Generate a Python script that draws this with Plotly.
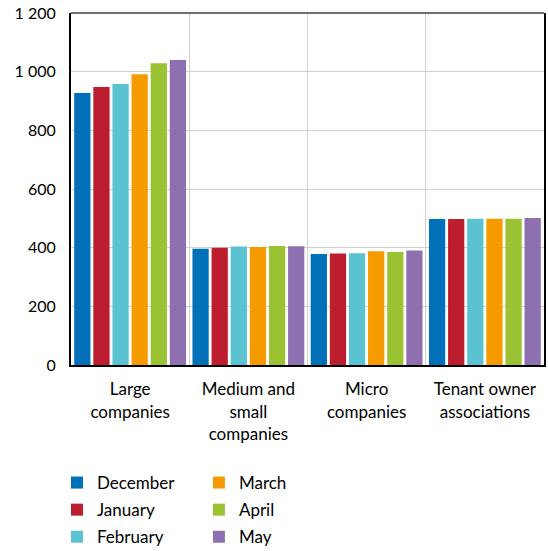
import plotly.graph_objects as go

categories = ["Large<br>companies", "Medium and<br>small<br>companies",
              "Micro<br>companies", "Tenant owner<br>associations"]
months = ["December", "January", "February", "March", "April", "May"]
colors = ["#0070b8", "#bc1e2f", "#5bc2d1", "#f59b00", "#9bc232", "#8e70b0"]

december = [927, 396, 378, 498]
january = [948, 400, 380, 498]
february = [958, 404, 381, 499]
march = [991, 402, 388, 499]
april = [1029, 406, 385, 499]
may = [1040, 405, 390, 501]
series = [december, january, february, march, april, may]

y_ticks = [0, 200, 400, 600, 800, 1000, 1200]

FONT = "Lato"

fig = go.Figure()
for i, (name, vals, col) in enumerate(zip(months, series, colors)):
    fig.add_trace(go.Bar(
        x=categories, y=vals, name=name,
        marker=dict(color=col, line=dict(width=0)),
        legend="legend" if i < 3 else "legend2",
        legendgroup=name,
    ))

legend_common = dict(
    orientation="v", traceorder="grouped", tracegroupgap=2,
    font=dict(family=FONT, size=17, color="#000000"),
    bgcolor="rgba(0,0,0,0)", borderwidth=0,
    xref="container", yref="container", xanchor="left", yanchor="top",
    itemclick=False,
)

fig.update_layout(
    width=548, height=551,
    margin=dict(l=71, r=4, t=13, b=186, autoexpand=False),
    paper_bgcolor="white", plot_bgcolor="white",
    separators=", ",
    barmode="group", bargap=0.03, bargroupgap=0.15,
    font=dict(family=FONT, size=16, color="#000000"),
    legend=dict(x=0.104, y=1 - 465 / 551, **legend_common),
    legend2=dict(x=0.363, y=1 - 465 / 551, **legend_common),
    xaxis=dict(
        showline=True, linecolor="#000000", linewidth=2,
        tickson="boundaries", showgrid=True, gridcolor="#d0d0d0", gridwidth=1,
        ticks="", tickangle=0, tickfont=dict(family=FONT, size=17),
        ticklabelstandoff=8,
    ),
    yaxis=dict(
        range=[0, 1200], tickvals=y_ticks, tickformat=",d",
        showline=True, linecolor="#000000", linewidth=2, mirror=True,
        showgrid=True, gridcolor="#d0d0d0", gridwidth=1,
        ticks="", ticklabelstandoff=10,
        tickfont=dict(family=FONT, size=16),
        zeroline=False,
    ),
    shapes=[dict(type="line", xref="paper", yref="paper", x0=0, x1=1, y0=1, y1=1,
                 line=dict(color="#707070", width=2))],
)

fig.write_html("out.html")
